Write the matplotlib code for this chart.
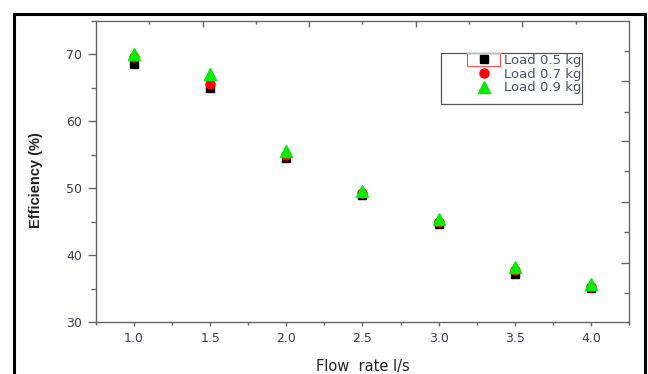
import matplotlib.pyplot as plt
from matplotlib.patches import Rectangle
from matplotlib.ticker import MultipleLocator, FixedLocator, NullFormatter

flow = [1.0, 1.5, 2.0, 2.5, 3.0, 3.5, 4.0]
load_05 = [68.5, 65.0, 54.5, 48.9, 44.7, 37.1, 35.1]
load_07 = [69.6, 65.6, 54.9, 49.3, 45.0, 37.7, 35.3]
load_09 = [70.0, 67.1, 55.6, 49.6, 45.4, 38.2, 35.7]
labels = ['Load 0.5 kg', 'Load 0.7 kg', 'Load 0.9 kg']

W, H = 648, 374
spine_col = '#666666'
txt_col = '#3b3f4a'
leg_col = '#4a5366'

fig = plt.figure(figsize=(W / 100, H / 100), dpi=100)
ax = fig.add_axes([96 / W, 1 - 322 / H, (629 - 96) / W, (322 - 20.7) / H])

ax.plot(flow, load_05, 's', color='black', markersize=5.8, label=labels[0])
ax.plot(flow, load_07, 'o', color='red', markersize=6.5, label=labels[1])
ax.plot(flow, load_09, '^', color='#00ee00', markersize=8, label=labels[2])

ax.set_xlim(0.75, 4.25)
ax.set_ylim(30, 75)
ax.xaxis.set_major_locator(MultipleLocator(0.5))
ax.xaxis.set_minor_locator(MultipleLocator(0.25))
ax.yaxis.set_major_locator(FixedLocator([30, 40, 50, 60, 70]))
ax.yaxis.set_minor_locator(FixedLocator([35, 45, 55, 65, 75]))
ax.xaxis.set_major_formatter(plt.FormatStrFormatter('%.1f'))

for s in ax.spines.values():
    s.set_color(spine_col)
    s.set_linewidth(1.0)

ax.tick_params(axis='x', which='major', direction='out', length=3, width=1, color=spine_col,
               labelsize=9, labelcolor=txt_col, pad=4, top=False)
ax.tick_params(axis='x', which='minor', direction='out', length=2, width=1, color=spine_col, top=False)
ax.tick_params(axis='y', which='major', direction='out', length=5.8, width=1, color=spine_col,
               labelsize=9, labelcolor=txt_col, pad=4, right=False)
ax.tick_params(axis='y', which='minor', direction='out', length=3.6, width=1, color=spine_col, right=False)

# odd tick positions of the top and right axes
axt = ax.twiny()
axt.set_xlim(ax.get_xlim())
axt.xaxis.set_major_locator(FixedLocator([1.45, 2.15, 2.85, 3.55]))
axt.xaxis.set_minor_locator(FixedLocator([1.10, 1.80, 2.50, 3.20, 3.90]))
axt.xaxis.set_major_formatter(NullFormatter())
axt.tick_params(axis='x', which='major', direction='in', length=4.3, width=1, color=spine_col)
axt.tick_params(axis='x', which='minor', direction='in', length=2.4, width=1, color=spine_col)
axr = ax.twinx()
axr.set_ylim(ax.get_ylim())
axr.yaxis.set_major_locator(FixedLocator([38.8, 47.9, 57.0, 66.0]))
axr.yaxis.set_minor_locator(FixedLocator([34.3, 43.4, 52.5, 61.4, 70.5]))
axr.yaxis.set_major_formatter(NullFormatter())
axr.tick_params(axis='y', which='major', direction='in', length=5.8, width=1, color=spine_col)
axr.tick_params(axis='y', which='minor', direction='in', length=3.6, width=1, color=spine_col)
for a in (axt, axr):
    for s in a.spines.values():
        s.set_visible(False)

ax.set_xlabel('Flow  rate l/s', fontsize=10.5, color='#222222')
ax.xaxis.set_label_coords(0.5, -0.124)
ax.set_ylabel('Efficiency (%)', fontsize=10.5, fontweight='bold', family='Liberation Sans',
              color='#222222')
ax.yaxis.set_label_coords(-0.10, 0.47)

leg = ax.legend(loc='upper left', bbox_to_anchor=(477.4 / W, 1 - 54 / H),
                bbox_transform=fig.transFigure, frameon=False, numpoints=1,
                fontsize=9.5, borderpad=0, borderaxespad=0, handlelength=1.0,
                handletextpad=1.0, labelspacing=0.05)
for t in leg.get_texts():
    t.set_color(leg_col)
leg.set_zorder(10)

# legend box, selection marks and outer frame in pixel positions
fig.patches.append(Rectangle((440.7 / W, 1 - 104.3 / H), (582 - 440.7) / W, (104.3 - 53.3) / H,
                             transform=fig.transFigure, fill=False, edgecolor='#555555', lw=0.9))
fig.patches.append(Rectangle((466.7 / W, 1 - 66 / H), (500 - 466.7) / W, (66 - 53.3) / H,
                             transform=fig.transFigure, fill=False, edgecolor='#ff5050', lw=0.8))
fig.lines.append(plt.Line2D([467 / W, 500 / W], [1 - 53.3 / H] * 2, transform=fig.transFigure,
                            color='#66e6e6', lw=0.9))
fig.patches.append(Rectangle((13.5 / W, -0.05), (645 - 13.5) / W, 1.05 - 13.5 / H,
                             transform=fig.transFigure, fill=False, edgecolor='black', lw=2.2))

fig.savefig('out.png', dpi=100)
